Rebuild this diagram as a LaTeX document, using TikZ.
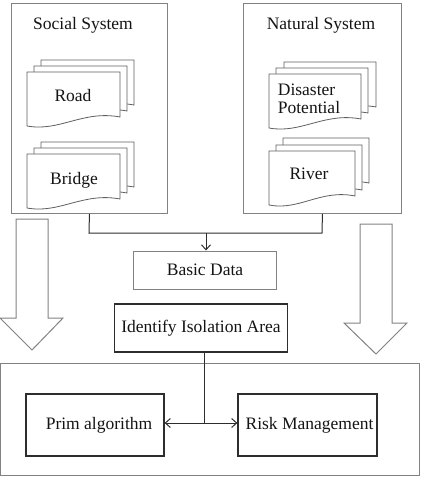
\documentclass[tikz,border=0pt]{standalone}
\usepackage{fontspec}
\setmainfont{Liberation Serif}
\usetikzlibrary{arrows.meta}
\definecolor{lgray}{RGB}{130,130,130}
\definecolor{mgray}{RGB}{95,95,95}
\definecolor{dgray}{RGB}{45,45,45}
\tikzset{
  sysbox/.style={draw=lgray, line width=0.9pt, anchor=north west, inner sep=0pt},
  docline/.style={draw=mgray, fill=white, line width=0.8pt},
  txt/.style={font=\fontsize{17.5}{19}\selectfont, inner sep=0pt, text=black!92},
  grayrect/.style={draw=lgray, line width=1pt, inner sep=0pt, font=\fontsize{17.5}{19}\selectfont, text=black!92},
  darkrect/.style={draw=dgray, line width=1.3pt, inner sep=0pt, font=\fontsize{17.5}{19}\selectfont, text=black!92},
  conn/.style={draw=dgray, line width=1pt},
  tip/.style={-{Straight Barb[length=5pt,width=9pt]}},
  hollow/.style={draw=lgray, fill=white, line width=1pt, line join=miter}
}
\newcommand\dshape[3]{% x1, ytop, x2 ; height 55
  \path[docline] (#1,#2) -- (#3,#2) -- ({#3},{#2+45})
    .. controls ({#3-0.4*(#3-#1)},{#2+38}) and ({#1+0.35*(#3-#1)},{#2+60}) .. ({#1},{#2+54}) -- cycle;}
\begin{document}
\begin{tikzpicture}[x=1pt,y=-1pt]
\useasboundingbox (0,0) rectangle (421,485);
% system boxes
\node[sysbox, minimum width=156pt, minimum height=210pt] (soc) at (11,3) {};
\node[sysbox, minimum width=158pt, minimum height=210pt] (nat) at (243,3) {};
\node[txt] (soct) at (83,25) {Social System};
\node[txt] (natt) at (321,25) {Natural System};
% document stacks
\dshape{41}{60}{134}\dshape{34}{66}{127}\dshape{27}{72}{120}
\node[txt] (road) at (73,96) {Road};
\dshape{41}{142}{134}\dshape{34}{148}{127}\dshape{27}{154}{120}
\node[txt] (bridge) at (74,180) {Bridge};
\dshape{284}{62}{376}\dshape{276}{68}{368}\dshape{269}{74}{361}
\node[txt, align=left] (dis) at (309,99) {Disaster\\[-1pt]Potential};
\dshape{283}{138}{369}\dshape{276}{145}{362}\dshape{269}{151}{355}
\node[txt] (river) at (309,174) {River};
% hollow arrows
\path[hollow] (16,219) -- (48,219) -- (48,318) -- (63,318) -- (32,350) -- (0,318) -- (16,318) -- cycle;
\path[hollow] (360,224) -- (392,224) -- (392,323) -- (407,323) -- (376,354) -- (344,323) -- (360,323) -- cycle;
% middle boxes
\node[grayrect, minimum width=143pt, minimum height=38pt] (basic) at (205,270) {Basic Data};
\node[darkrect, minimum width=173pt, minimum height=48pt] (ident) at (201,328) {Identify Isolation Area};
% bottom container
\node[draw=lgray, line width=1pt, minimum width=419pt, minimum height=112pt, anchor=north west, inner sep=0pt] (bottom) at (0,363) {};
\node[darkrect, minimum width=138pt, minimum height=62pt] (prim) at (95,425) {\hspace*{8pt}Prim algorithm};
\node[darkrect, minimum width=139pt, minimum height=62pt] (risk) at (307.5,425) {\hspace*{4pt}Risk Management};
% connectors
\coordinate (j1) at (89,233);
\coordinate (j2) at (322,233);
\coordinate (jm) at (206,233);
\draw[conn] (soc.south) -- (j1) -- (j2) -- (nat.south);
\draw[conn, tip] (jm) -- (jm |- basic.north);
\coordinate (k) at (204,423);
\draw[conn] (ident.south -| k) -- (k);
\draw[conn, tip] (k) -- (k -| prim.east);
\draw[conn, tip] (k) -- (k -| risk.west);
\end{tikzpicture}
\end{document}
